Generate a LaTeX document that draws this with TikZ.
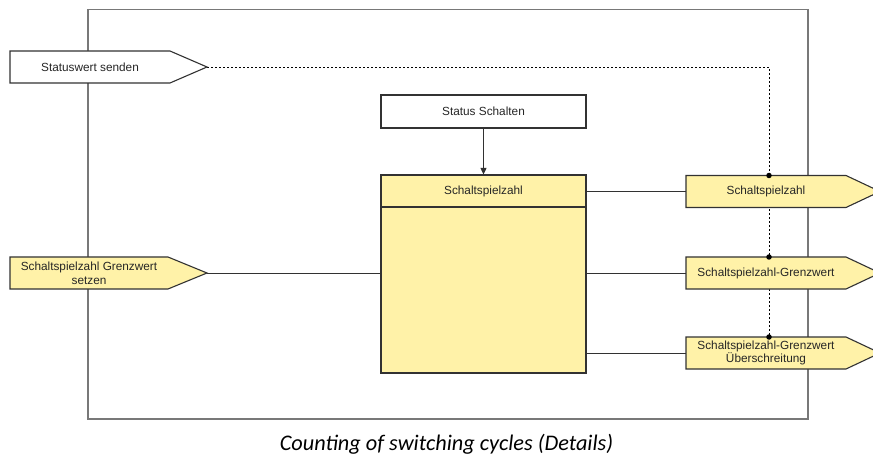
\documentclass[tikz,border=0pt]{standalone}
\usepackage{fontspec}
\setmainfont{Liberation Sans}
\newfontfamily\capfont{Carlito}
\usetikzlibrary{arrows.meta}
\definecolor{boxyellow}{RGB}{255,242,168}
\definecolor{framegray}{RGB}{120,120,120}
\definecolor{edgegray}{RGB}{50,50,50}
\tikzset{
  lbl/.style={inner sep=0pt, outer sep=0pt, font=\fontsize{11.8}{13.8}\selectfont, align=center, minimum height=32pt, text=black!85},
  outline/.style={draw=edgegray, line width=1.1pt},
  wire/.style={draw=edgegray, line width=0.9pt},
  dotwire/.style={draw=black, line width=0.9pt, dash pattern=on 1.6pt off 2.4pt},
  junction/.style={circle, fill=black, inner sep=0pt, minimum size=5.5pt},
}
\begin{document}
\begin{tikzpicture}[x=1pt,y=-1pt]
\useasboundingbox (0,0) rectangle (873,457);
\clip (0,0) rectangle (873,457);
% frame
\draw[framegray, line width=1.4pt] (88,9.5) rectangle (808,419);
% dotted status line
\coordinate (swtip) at (207,67);
\coordinate (dcorner) at (769,67);
\coordinate (dend) at (769,337);
\draw[dotwire] (swtip) -- (dcorner) -- (dend);
% Statuswert senden
\node[lbl, minimum width=160pt] (sw) at (90,67) {};
\draw[outline, fill=white] (sw.north west) -- (sw.north east) -- (swtip) -- (sw.south east) -- (sw.south west) -- cycle;
\node[lbl, minimum width=160pt] at (sw) {Statuswert senden};
% input
\coordinate (intip) at (207,273);
\node[lbl, minimum width=158pt] (in) at (89,273) {};
\draw[outline, fill=boxyellow] (in.north west) -- (in.north east) -- (intip) -- (in.south east) -- (in.south west) -- cycle;
\node[lbl] at (in) {Schaltspielzahl Grenzwert\\setzen};
% status schalten
\node[lbl, outline, fill=white, minimum width=205pt, minimum height=33pt] (ss) at (483.5,111.5) {Status Schalten};
% big box
\node[outline, fill=boxyellow, minimum width=205pt, minimum height=198pt, inner sep=0pt] (big) at (483.5,274) {};
\node[lbl, minimum width=205pt] (bighead) at (483.5,191) {Schaltspielzahl};
\draw[outline] (big.west |- 0,207) -- (big.east |- 0,207);
\draw[wire, -{Triangle[length=6.5pt,width=6pt]}] (ss.south) -- (big.north);
% outputs
\foreach \nm/\yy/\txt in {o1/191.5/{Schaltspielzahl}, o2/273/{Schaltspielzahl-Grenzwert}, o3/353/{Schaltspielzahl-Grenzwert\\Überschreitung}}{
  \node[lbl, minimum width=160pt] (\nm) at (766,\yy) {};
  \coordinate (\nm tip) at (880,\yy);
  \draw[outline, fill=boxyellow] (\nm.north west) -- (\nm.north east) -- (\nm tip) -- (\nm.south east) -- (\nm.south west) -- cycle;
  \node[lbl] at (\nm) {\txt};
  \node[junction] at (769,\yy-16) {};
}
% connectors
\draw[wire] (big.east |- o1.west) -- (o1.west);
\draw[wire] (big.east |- o2.west) -- (o2.west);
\draw[wire] (big.east |- o3.west) -- (o3.west);
\draw[wire] (intip) -- (big.west |- intip);
% caption
\node[font=\capfont\itshape\fontsize{22.3}{26}\selectfont, anchor=base, inner sep=0pt] (cap) at (446.5,450) {Counting of switching cycles (Details)};
\end{tikzpicture}
\end{document}
